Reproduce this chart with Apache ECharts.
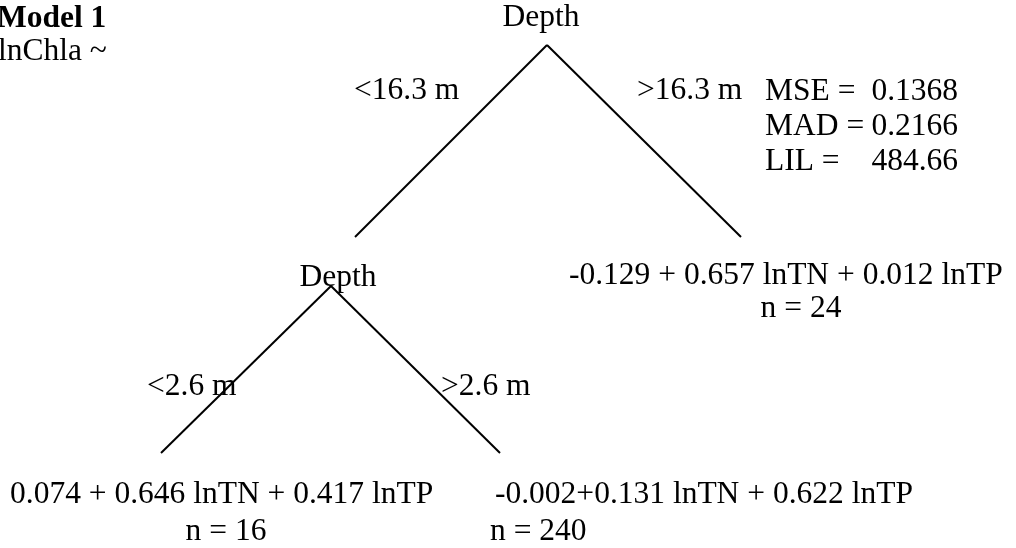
<!DOCTYPE html>
<html>
<head>
<meta charset="utf-8">
<script src="https://cdn.jsdelivr.net/npm/echarts@6/dist/echarts.min.js"></script>
<style>
  html, body { margin: 0; padding: 0; background: #ffffff; }
  #chart { width: 1016px; height: 548px; }
</style>
</head>
<body>
<div id="chart"></div>
<script>
// ---------------- DATA ----------------
const modelTitle = 'Model 1';
const responseVar = 'lnChla';
const splitVariables = ['Depth', 'Depth'];      // root split, second split
const splitThresholds = [16.3, 2.6];            // metres
const leafIntercepts = [0.074, -0.002, -0.129]; // leaf 1 (<2.6), leaf 2 (>2.6), leaf 3 (>16.3)
const leafCoefTN = [0.646, 0.131, 0.657];
const leafCoefTP = [0.417, 0.622, 0.012];
const leafN = [16, 240, 24];
const leafFirstJoin = [' + ', '+', ' + '];
const fitStatNames = ['MSE', 'MAD', 'LIL'];
const fitStatValues = ['0.1368', '0.2166', '484.66'];
const fitStatGaps = [' ', '', '   '];

// ---------------- LAYOUT (diagram units on hidden axes) ----------------
const splitNodePos = [[547, 45], [331, 286]];
const branchEnds = [
  [[355, 237], [741, 237]],   // root: left, right
  [[161, 453], [500, 453]]    // second split: left, right
];

const FONT = '"Liberation Serif", "Times New Roman", serif';
const FS = 31.5;
const MID = 10.6; // alphabetic baseline -> middle offset

function eq(i) {
  return leafIntercepts[i].toFixed(3) + leafFirstJoin[i] + leafCoefTN[i].toFixed(3) +
    ' lnTN + ' + leafCoefTP[i].toFixed(3) + ' lnTP';
}

// text items: [x, baselineY, text, align, weight]
const texts = [
  [-3, 29, modelTitle, 'left', 'bold'],
  [-2, 62, responseVar + ' ~', 'left', 'normal'],
  [541, 28, splitVariables[0], 'center', 'normal'],
  [354, 101, '<' + splitThresholds[0] + ' m', 'left', 'normal'],
  [637, 101, '>' + splitThresholds[0] + ' m', 'left', 'normal'],
  [338, 288, splitVariables[1], 'center', 'normal'],
  [569, 286, eq(2), 'left', 'normal'],
  [801, 319, 'n = ' + leafN[2], 'center', 'normal'],
  [147, 397, '<' + splitThresholds[1] + ' m', 'left', 'normal'],
  [441, 397, '>' + splitThresholds[1] + ' m', 'left', 'normal'],
  [10, 505, eq(0), 'left', 'normal'],
  [226, 542, 'n = ' + leafN[0], 'center', 'normal'],
  [495, 505, eq(1), 'left', 'normal'],
  [490, 542, 'n = ' + leafN[1], 'left', 'normal']
];
const statBaselines = [102, 137, 172];
fitStatNames.forEach(function (nm, i) {
  texts.push([765, statBaselines[i], nm + ' =' + fitStatGaps[i], 'left', 'normal']);
  texts.push([958, statBaselines[i], fitStatValues[i], 'right', 'normal']);
});

const edgeData = [];
splitNodePos.forEach(function (p, i) {
  branchEnds[i].forEach(function (e) { edgeData.push({ coords: [p, e] }); });
});

const chart = echarts.init(document.getElementById('chart'), null, { renderer: 'canvas' });
chart.setOption({
  backgroundColor: '#ffffff',
  animation: false,
  grid: { left: 0, right: 0, top: 0, bottom: 0 },
  xAxis: { type: 'value', min: 0, max: 1016, show: false },
  yAxis: { type: 'value', min: 0, max: 548, inverse: true, show: false },
  series: [
    {
      type: 'lines',
      coordinateSystem: 'cartesian2d',
      silent: true,
      lineStyle: { color: '#000000', width: 2, opacity: 1, curveness: 0 },
      data: edgeData
    },
    {
      type: 'custom',
      coordinateSystem: 'cartesian2d',
      silent: true,
      clip: false,
      data: texts.map(function (t, i) { return [t[0], t[1], i]; }),
      renderItem: function (params, api) {
        const t = texts[api.value(2)];
        const pt = api.coord([api.value(0), api.value(1)]);
        return {
          type: 'text',
          x: pt[0],
          y: pt[1] - MID,
          style: {
            text: t[2],
            fill: '#000000',
            font: t[4] + ' ' + FS + 'px ' + FONT,
            align: t[3],
            verticalAlign: 'middle'
          }
        };
      }
    }
  ]
});
</script>
</body>
</html>
